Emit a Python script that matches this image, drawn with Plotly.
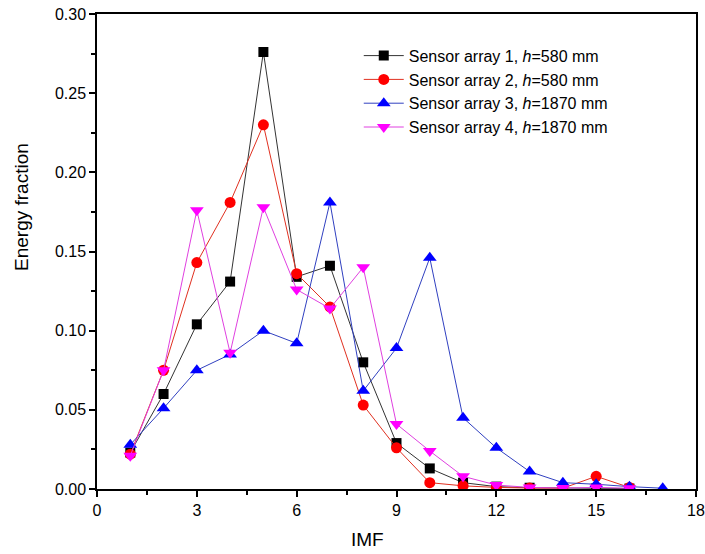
import plotly.graph_objects as go

imf1 = list(range(1, 17))
s1 = [0.023, 0.060, 0.104, 0.131, 0.276, 0.134, 0.141, 0.080, 0.029, 0.013, 0.004, 0.0015, 0.0008, 0.0005, 0.0004, 0.0003]
imf2 = list(range(1, 17))
s2 = [0.022, 0.075, 0.143, 0.181, 0.230, 0.136, 0.115, 0.053, 0.026, 0.004, 0.002, 0.001, 0.0006, 0.0005, 0.008, 0.001]
imf3 = list(range(1, 18))
s3 = [0.028, 0.051, 0.075, 0.085, 0.100, 0.092, 0.181, 0.062, 0.089, 0.146, 0.045, 0.026, 0.011, 0.004, 0.003, 0.0015, 0.0005]
imf4 = list(range(1, 17))
s4 = [0.021, 0.075, 0.176, 0.086, 0.178, 0.126, 0.114, 0.140, 0.041, 0.024, 0.008, 0.0025, 0.001, 0.0006, 0.001, 0.0005]

names = ["Sensor array 1, <i>h</i>=580 mm", "Sensor array 2, <i>h</i>=580 mm",
         "Sensor array 3, <i>h</i>=1870 mm", "Sensor array 4, <i>h</i>=1870 mm"]

fig = go.Figure()
styles = [
    (imf1, s1, "#000000", "#333333", "square", 10),
    (imf2, s2, "#ff0000", "#e03020", "circle", 11),
    (imf3, s3, "#0000ff", "#3040c0", "triangle-up", 12),
    (imf4, s4, "#ff00ff", "#e040e0", "triangle-down", 12),
]
for (x, y, mc, lc, sym, sz), nm in zip(styles, names):
    fig.add_trace(go.Scatter(x=x, y=y, mode="lines+markers", name=nm,
                             line=dict(color=lc, width=1),
                             marker=dict(color=mc, symbol=sym, size=sz, line=dict(width=0))))

font = "Liberation Sans, Arial, sans-serif"
fig.update_layout(
    width=705, height=554,
    margin=dict(l=97, r=9, t=14, b=65),
    plot_bgcolor="white", paper_bgcolor="white",
    font=dict(family=font, color="#000000", size=16),
    showlegend=True,
    legend=dict(x=0.437, y=0.948, xanchor="left", yanchor="top",
                bgcolor="rgba(0,0,0,0)", font=dict(size=16, family=font),
                tracegroupgap=0, itemwidth=40),
    xaxis=dict(range=[0, 18], tickvals=[0, 3, 6, 9, 12, 15, 18],
               ticks="outside", ticklen=6, tickwidth=1.5, tickcolor="#000",
               minor=dict(tickvals=[1.5, 4.5, 7.5, 10.5, 13.5, 16.5], ticks="outside", ticklen=4, tickwidth=1.5, tickcolor="#000"),
               showline=True, linecolor="#000", linewidth=1.5, mirror=True,
               showgrid=False, zeroline=False, automargin=False,
               ticklabeloverflow="allow",
               tickfont=dict(size=16)),
    yaxis=dict(range=[0, 0.30], tickvals=[0, 0.05, 0.10, 0.15, 0.20, 0.25, 0.30],
               tickformat=".2f",
               ticks="outside", ticklen=6, tickwidth=1.5, tickcolor="#000",
               minor=dict(tickvals=[0.025, 0.075, 0.125, 0.175, 0.225, 0.275], ticks="outside", ticklen=4, tickwidth=1.5, tickcolor="#000"),
               showline=True, linecolor="#000", linewidth=1.5, mirror=True,
               showgrid=False, zeroline=False, automargin=False,
               ticklabeloverflow="allow",
               tickfont=dict(size=16)),
    annotations=[
        dict(text="IMF", xref="paper", yref="paper", x=0.451, y=-0.107,
             xanchor="center", yanchor="middle", showarrow=False,
             font=dict(size=19, family=font)),
        dict(text="Energy fraction", xref="paper", yref="paper", x=-0.125, y=0.594,
             xanchor="center", yanchor="middle", showarrow=False, textangle=-90,
             font=dict(size=19, family=font)),
    ],
)

fig.write_html("out.html")
